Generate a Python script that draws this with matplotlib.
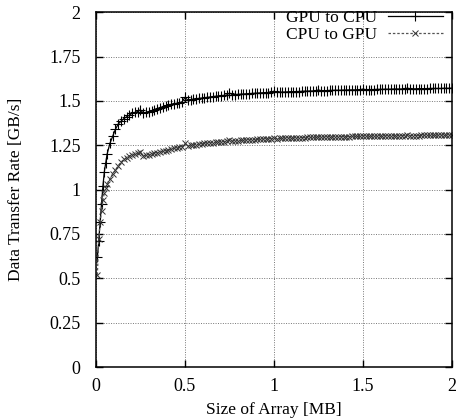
import matplotlib
matplotlib.use("Agg")
import matplotlib.pyplot as plt

plt.rcParams['font.family'] = ['Liberation Serif', 'DejaVu Serif']

# array sizes in KB: 8 KB steps up to 64 KB, then 16 KB steps up to 2 MB
size_kb = [8, 16, 24, 32, 40, 48, 56, 64] + list(range(80, 2049, 16))
size_mb = [s / 1024.0 for s in size_kb]

gpu_to_cpu = [
    0.62, 0.71, 0.82, 0.92, 1.02, 1.10, 1.15, 1.20,
    1.26, 1.30, 1.34, 1.37, 1.385, 1.40, 1.41, 1.42, 1.43, 1.435, 1.44, 1.45,
    1.43, 1.435, 1.44, 1.445, 1.45, 1.455, 1.46, 1.465, 1.47, 1.475, 1.48, 1.483, 1.487, 1.49, 1.495, 1.52,
    1.505, 1.507, 1.51, 1.512, 1.514, 1.516, 1.518, 1.52, 1.522, 1.524, 1.526, 1.528, 1.53, 1.531, 1.533, 1.545,
    1.535, 1.536, 1.537, 1.538, 1.539, 1.54, 1.541, 1.542, 1.543, 1.544, 1.545, 1.546, 1.547, 1.547, 1.548, 1.555,
    1.548, 1.549, 1.55, 1.55, 1.551, 1.552, 1.552, 1.553, 1.553, 1.554, 1.555, 1.555, 1.556, 1.556, 1.557, 1.562,
    1.557, 1.558, 1.558, 1.559, 1.559, 1.56, 1.56, 1.56, 1.561, 1.561, 1.562, 1.562, 1.562, 1.563, 1.563, 1.567,
    1.563, 1.564, 1.564, 1.564, 1.565, 1.565, 1.565, 1.566, 1.566, 1.566, 1.567, 1.567, 1.567, 1.567, 1.568, 1.572,
    1.568, 1.568, 1.568, 1.569, 1.569, 1.569, 1.569, 1.57, 1.57, 1.57, 1.57, 1.57, 1.571, 1.571, 1.571, 1.572,
]

cpu_to_gpu = [
    0.52, 0.72, 0.82, 0.88, 0.94, 0.98, 1.01, 1.03,
    1.06, 1.09, 1.11, 1.135, 1.155, 1.17, 1.18, 1.19, 1.195, 1.20, 1.205, 1.21,
    1.19, 1.193, 1.197, 1.20, 1.204, 1.208, 1.212, 1.216, 1.22, 1.224, 1.228, 1.232, 1.236, 1.24, 1.243, 1.26,
    1.248, 1.25, 1.252, 1.254, 1.256, 1.258, 1.26, 1.262, 1.264, 1.265, 1.267, 1.268, 1.27, 1.271, 1.272, 1.28,
    1.274, 1.275, 1.276, 1.277, 1.278, 1.279, 1.28, 1.281, 1.282, 1.283, 1.284, 1.285, 1.286, 1.286, 1.287, 1.292,
    1.288, 1.289, 1.289, 1.29, 1.29, 1.291, 1.291, 1.292, 1.292, 1.293, 1.293, 1.294, 1.294, 1.295, 1.295, 1.299,
    1.296, 1.296, 1.297, 1.297, 1.297, 1.298, 1.298, 1.298, 1.299, 1.299, 1.299, 1.3, 1.3, 1.3, 1.3, 1.303,
    1.301, 1.301, 1.301, 1.302, 1.302, 1.302, 1.302, 1.303, 1.303, 1.303, 1.303, 1.304, 1.304, 1.304, 1.304, 1.307,
    1.305, 1.305, 1.305, 1.305, 1.306, 1.306, 1.306, 1.306, 1.306, 1.307, 1.307, 1.307, 1.307, 1.307, 1.308, 1.309,
]

xticks = [0, 0.5, 1, 1.5, 2]
xtick_labels = ['0', '0.5', '1', '1.5', '2']
yticks = [0, 0.25, 0.5, 0.75, 1, 1.25, 1.5, 1.75, 2]
ytick_labels = ['0', '0.25', '0.5', '0.75', '1', '1.25', '1.5', '1.75', '2']

fig = plt.figure(figsize=(4.57, 4.2), dpi=100)
ax = fig.add_axes([0.21, 0.126, 0.779, 0.845])

ax.plot(size_mb, gpu_to_cpu, color='k', lw=0.9, marker='+', ms=6.5, mew=0.8,
        label='GPU to CPU')
ax.plot(size_mb, cpu_to_gpu, color='#555555', lw=0.9, ls=(0, (2, 1.5)), marker='x',
        ms=4, mew=0.7, mec='#333333', label='CPU to GPU')

ax.set_xlim(0, 2)
ax.set_ylim(0, 2)
ax.set_xticks(xticks)
ax.set_xticklabels(xtick_labels)
ax.set_yticks(yticks)
ax.set_yticklabels(ytick_labels)
ax.tick_params(axis='both', direction='in', top=True, right=True, length=5, width=1,
               labelsize=13)
ax.tick_params(axis='x', pad=8)
ax.tick_params(axis='y', pad=11)
ax.grid(True, color='#777777', ls=(0, (1, 1.5)), lw=0.7)
for sp in ax.spines.values():
    sp.set_linewidth(1.1)

ax.set_xlabel('Size of Array [MB]', fontsize=12.5, labelpad=5)
ax.set_ylabel('Data Transfer Rate [GB/s]', fontsize=12.5, labelpad=18)

leg = ax.legend(loc='upper right', bbox_to_anchor=(0.985, 1.017), frameon=False,
                markerfirst=False, handlelength=3.2, fontsize=12.5,
                borderaxespad=0, borderpad=0.2, labelspacing=0.05,
                handletextpad=0.6)

fig.savefig('out.png', dpi=100)
